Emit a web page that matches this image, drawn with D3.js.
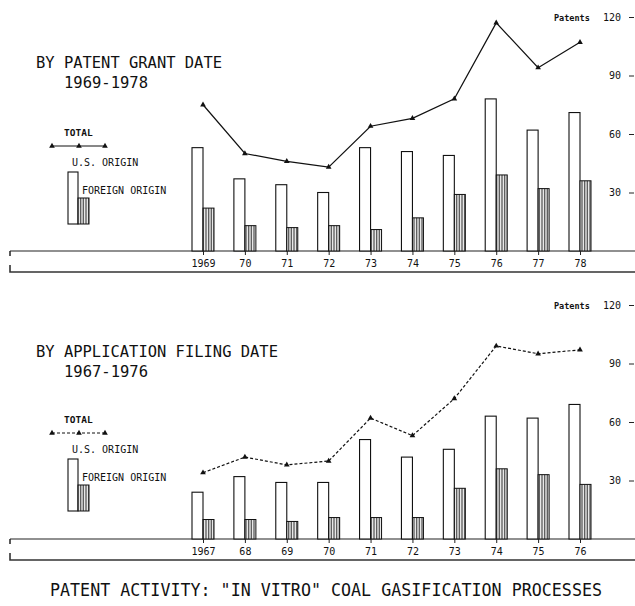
<!DOCTYPE html>
<html>
<head>
<meta charset="utf-8">
<script src="https://cdn.jsdelivr.net/npm/d3@7"></script>
<style>
  body { margin: 0; background: #fff; }
  text { font-family: "DejaVu Sans Mono", monospace; fill: #111; }
</style>
</head>
<body>
<div id="chart"></div>
<script>
// Chart data
var grantYears = ["1969", "70", "71", "72", "73", "74", "75", "76", "77", "78"];
var grantUS = [53, 37, 34, 30, 53, 51, 49, 78, 62, 71];
var grantForeign = [22, 13, 12, 13, 11, 17, 29, 39, 32, 36];
var grantTotal = [75, 50, 46, 43, 64, 68, 78, 117, 94, 107];

var filingYears = ["1967", "68", "69", "70", "71", "72", "73", "74", "75", "76"];
var filingUS = [24, 32, 29, 29, 51, 42, 46, 63, 62, 69];
var filingForeign = [10, 10, 9, 11, 11, 11, 26, 36, 33, 28];
var filingTotal = [34, 42, 38, 40, 62, 53, 72, 99, 95, 97];

var yTicks = [30, 60, 90, 120];

var width = 635, height = 606;

var svg = d3.select("#chart")
  .append("svg")
  .attr("width", width)
  .attr("height", height);

// Hatch pattern for foreign origin bars
var defs = svg.append("defs");
var pat = defs.append("pattern")
  .attr("id", "hatch")
  .attr("patternUnits", "userSpaceOnUse")
  .attr("width", 1.6)
  .attr("height", 4);
pat.append("rect").attr("width", 1.6).attr("height", 4).attr("fill", "#fff");
pat.append("line")
  .attr("x1", 0.4).attr("x2", 0.4).attr("y1", 0).attr("y2", 4)
  .attr("stroke", "#333").attr("stroke-width", 0.8);

function drawPanel(cfg) {
  var g = svg.append("g");

  var x = d3.scalePoint()
    .domain(cfg.years)
    .range([203, 580]);

  var y = d3.scaleLinear()
    .domain([0, 120])
    .range([cfg.base, cfg.base - 234]);

  var barW = 11;

  // Frame under the baseline
  g.append("line")
    .attr("x1", 10).attr("x2", 635)
    .attr("y1", cfg.base).attr("y2", cfg.base)
    .attr("stroke", "#222").attr("stroke-width", 1.2);
  g.append("line")
    .attr("x1", 10).attr("x2", 10)
    .attr("y1", cfg.base).attr("y2", cfg.base + 5)
    .attr("stroke", "#222").attr("stroke-width", 1.5);
  g.append("path")
    .attr("d", "M10," + (cfg.base + 14) + "V" + (cfg.base + 21) + "H635")
    .attr("fill", "none")
    .attr("stroke", "#333").attr("stroke-width", 1.6);

  // U.S. origin bars
  g.selectAll(".us")
    .data(cfg.us)
    .enter().append("rect")
    .attr("class", "us")
    .attr("x", function(d, i) { return x(cfg.years[i]) - barW; })
    .attr("y", function(d) { return y(d); })
    .attr("width", barW)
    .attr("height", function(d) { return cfg.base - y(d); })
    .attr("fill", "#fff")
    .attr("stroke", "#111")
    .attr("stroke-width", 1.1);

  // Foreign origin bars
  g.selectAll(".fo")
    .data(cfg.foreign)
    .enter().append("rect")
    .attr("class", "fo")
    .attr("x", function(d, i) { return x(cfg.years[i]); })
    .attr("y", function(d) { return y(d); })
    .attr("width", barW)
    .attr("height", function(d) { return cfg.base - y(d); })
    .attr("fill", "url(#hatch)")
    .attr("stroke", "#111")
    .attr("stroke-width", 1);

  // Year axis
  var xAxis = g.append("g")
    .attr("transform", "translate(0," + cfg.base + ")")
    .call(d3.axisBottom(x).tickSize(4).tickPadding(5));
  xAxis.select(".domain").remove();
  xAxis.selectAll("text").style("font-size", "10px").attr("fill", "#111");
  xAxis.selectAll("line").attr("stroke", "#222");

  // Patents axis on the right
  var yAxis = g.append("g")
    .attr("transform", "translate(634,0)")
    .call(d3.axisLeft(y).tickValues(yTicks).tickSize(5).tickPadding(8));
  yAxis.select(".domain").remove();
  yAxis.selectAll("text").style("font-size", "10px").attr("fill", "#111");
  yAxis.selectAll("line").attr("stroke", "#222");

  g.append("text")
    .attr("x", 554).attr("y", y(120) + 3.5)
    .style("font-size", "8.5px")
    .style("font-weight", "bold")
    .text("Patents");

  // Total line
  var line = d3.line()
    .x(function(d, i) { return x(cfg.years[i]); })
    .y(function(d) { return y(d); });

  g.append("path")
    .datum(cfg.total)
    .attr("d", line)
    .attr("fill", "none")
    .attr("stroke", "#111")
    .attr("stroke-width", 1.2)
    .attr("stroke-dasharray", cfg.dash);

  var tri = d3.symbol().type(d3.symbolTriangle).size(14);
  g.selectAll(".pt")
    .data(cfg.total)
    .enter().append("path")
    .attr("class", "pt")
    .attr("d", tri)
    .attr("transform", function(d, i) { return "translate(" + x(cfg.years[i]) + "," + y(d) + ")"; })
    .attr("fill", "#111");

  // Titles
  g.append("text")
    .attr("x", 36).attr("y", cfg.titleY)
    .attr("textLength", cfg.titleLen)
    .attr("lengthAdjust", "spacingAndGlyphs")
    .style("font-size", "15px")
    .text(cfg.title);
  g.append("text")
    .attr("x", 64).attr("y", cfg.titleY + 20)
    .attr("textLength", 84)
    .attr("lengthAdjust", "spacingAndGlyphs")
    .style("font-size", "15px")
    .text(cfg.range);

  // Legend
  var ly = cfg.legendY;
  g.append("text")
    .attr("x", 64).attr("y", ly)
    .style("font-size", "9.5px").style("font-weight", "bold")
    .text("TOTAL");
  g.append("line")
    .attr("x1", 52).attr("x2", 105)
    .attr("y1", ly + 10).attr("y2", ly + 10)
    .attr("stroke", "#111").attr("stroke-width", 1)
    .attr("stroke-dasharray", cfg.dash);
  g.selectAll(".lt")
    .data([52, 79, 105])
    .enter().append("path")
    .attr("class", "lt")
    .attr("d", tri)
    .attr("transform", function(d) { return "translate(" + d + "," + (ly + 10) + ")"; })
    .attr("fill", "#111");
  g.append("text")
    .attr("x", 72).attr("y", ly + 30)
    .style("font-size", "10px")
    .text("U.S. ORIGIN");
  g.append("rect")
    .attr("x", 68).attr("y", ly + 36)
    .attr("width", 10).attr("height", 52)
    .attr("fill", "#fff").attr("stroke", "#111").attr("stroke-width", 1.1);
  g.append("rect")
    .attr("x", 78).attr("y", ly + 62)
    .attr("width", 11).attr("height", 26)
    .attr("fill", "url(#hatch)").attr("stroke", "#111").attr("stroke-width", 1);
  g.append("text")
    .attr("x", 82).attr("y", ly + 58)
    .style("font-size", "10px")
    .text("FOREIGN ORIGIN");
}

drawPanel({
  years: grantYears, us: grantUS, foreign: grantForeign, total: grantTotal,
  base: 251, dash: null,
  title: "BY PATENT GRANT DATE", titleLen: 186, range: "1969-1978",
  titleY: 68, legendY: 136
});

drawPanel({
  years: filingYears, us: filingUS, foreign: filingForeign, total: filingTotal,
  base: 539, dash: "3,2",
  title: "BY APPLICATION FILING DATE", titleLen: 242, range: "1967-1976",
  titleY: 357, legendY: 423
});

// Main caption
svg.append("text")
  .attr("x", 50).attr("y", 596)
  .attr("textLength", 552)
  .attr("lengthAdjust", "spacingAndGlyphs")
  .style("font-size", "17px")
  .text("PATENT ACTIVITY: \"IN VITRO\" COAL GASIFICATION PROCESSES");
</script>
</body>
</html>
